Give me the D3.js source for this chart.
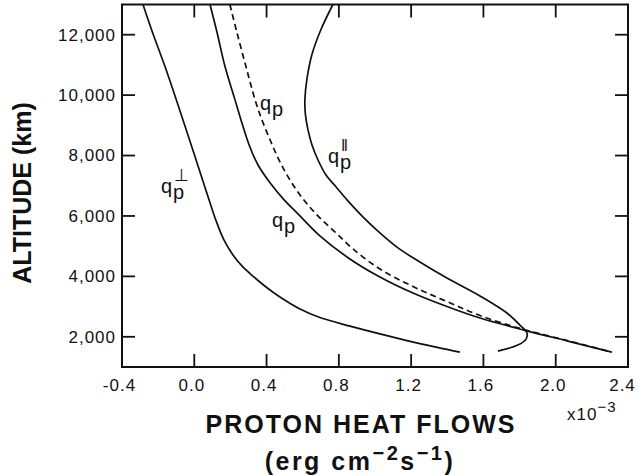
<html>
  <head>
    <meta charset="utf-8">
    <title>Proton heat flows</title>
    <script src="https://d3js.org/d3.v7.min.js"></script>
    <style>
      body { margin: 0; background: #fff; }
      svg text { font-family: "Liberation Sans", Arial, sans-serif; fill: #111; }
      .tick text { font-size: 17px; letter-spacing: 1px; }
      .tickmark { stroke: #111; stroke-width: 1.8px; }
    </style>
  </head>
  <body>
    <svg width="639" height="475"></svg>
    <script>
      // data: [heat flow (x10^-3), altitude km]
      var xTicks = [-0.4, 0.0, 0.4, 0.8, 1.2, 1.6, 2.0, 2.4];
      var yTicks = [2000, 4000, 6000, 8000, 10000, 12000];

      var qPerp = [[-0.284,13000],[-0.231,12073],[-0.162,10945],[-0.063,9187],[0.015,7761],
        [0.087,6434],[0.123,5804],[0.164,5207],[0.214,4710],[0.269,4312],[0.330,3980],
        [0.397,3648],[0.474,3317],[0.585,2919],[0.695,2637],[0.861,2355],[1.066,2040],
        [1.248,1774],[1.470,1493]];

      var qTotal = [[0.087,13000],[0.126,12073],[0.170,10945],[0.225,9851],[0.258,9187],
        [0.303,8358],[0.352,7695],[0.419,7098],[0.497,6534],[0.574,6070],[0.695,5340],
        [0.861,4577],[1.027,3980],[1.210,3449],[1.398,3002],[1.581,2620],[1.835,2206],
        [2.078,1841],[2.310,1493]];

      var qDashed = [[0.197,13000],[0.236,12073],[0.286,10945],[0.336,9851],[0.374,9187],
        [0.419,8524],[0.468,7861],[0.529,7197],[0.601,6567],[0.684,6003],[0.778,5473],
        [0.878,4909],[1.027,4245],[1.210,3665],[1.398,3167],[1.581,2703],[1.824,2239],
        [2.078,1857],[2.310,1493]];

      var qPar = [[0.767,13000],[0.701,12172],[0.651,11343],[0.623,10514],[0.612,9851],
        [0.615,9353],[0.629,8856],[0.651,8358],[0.684,7861],[0.728,7363],[0.784,6965],
        [0.850,6501],[0.933,5970],[1.027,5439],[1.127,4942],[1.248,4478],[1.398,3947],
        [1.581,3350],[1.730,2786],[1.802,2388],[1.841,2123],[1.836,1924],[1.790,1725],
        [1.680,1526]];

      // curve labels: q with subscript p and optional superscript
      var labels = [
        {v: -0.184, alt: 6766, sup: "\u22A5"},
        {v: 0.363, alt: 9519, sup: ""},
        {v: 0.430, alt: 5648, sup: ""},
        {v: 0.740, alt: 7751, sup: "\u2016"}
      ];

      var svg = d3.select("svg");
      var x = d3.scaleLinear().domain([-0.4, 2.4]).range([122, 628]);
      var y = d3.scaleLinear().domain([1000, 13000]).range([367, 4.5]);
      var tickLen = 13;

      var fmtX = function(d){ return (d < 0 ? "-" : "") + Math.abs(d).toFixed(1); };

      // tick labels
      svg.append("g").attr("transform", "translate(0," + y(1000) + ")")
        .call(d3.axisBottom(x).tickValues(xTicks).tickFormat(fmtX)
          .tickSize(0).tickPadding(12))
        .call(function(g){
          g.select(".domain").remove();
          g.selectAll("text").attr("dx", function(d){ return d === 2.4 ? -6 : -3; });
        });

      svg.append("g").attr("transform", "translate(" + x(-0.4) + ",0)")
        .call(d3.axisLeft(y).tickValues(yTicks).tickFormat(d3.format(","))
          .tickSize(0).tickPadding(6))
        .call(function(g){ g.select(".domain").remove(); });

      // inward tick marks on all four sides
      var inner = xTicks.slice(1, -1);
      svg.append("g").selectAll("line").data(inner).join("line").attr("class", "tickmark")
        .attr("x1", x).attr("x2", x)
        .attr("y1", y(1000)).attr("y2", y(1000) - tickLen);
      svg.append("g").selectAll("line").data(inner).join("line").attr("class", "tickmark")
        .attr("x1", x).attr("x2", x)
        .attr("y1", y(13000)).attr("y2", y(13000) + tickLen);
      svg.append("g").selectAll("line").data(yTicks).join("line").attr("class", "tickmark")
        .attr("y1", y).attr("y2", y)
        .attr("x1", x(-0.4)).attr("x2", x(-0.4) + tickLen);
      svg.append("g").selectAll("line").data(yTicks).join("line").attr("class", "tickmark")
        .attr("y1", y).attr("y2", y)
        .attr("x1", x(2.4)).attr("x2", x(2.4) - tickLen);

      // frame
      svg.append("rect")
        .attr("x", x(-0.4)).attr("y", y(13000))
        .attr("width", x(2.4) - x(-0.4)).attr("height", y(1000) - y(13000))
        .attr("fill", "none").attr("stroke", "#111").attr("stroke-width", 2);

      var line = d3.line()
        .x(function(d){ return x(d[0]); })
        .y(function(d){ return y(d[1]); })
        .curve(d3.curveCatmullRom);

      [qPerp, qTotal, qPar].forEach(function(s){
        svg.append("path").attr("d", line(s))
          .attr("fill", "none").attr("stroke", "#111").attr("stroke-width", 1.7);
      });
      svg.append("path").attr("d", line(qDashed))
        .attr("fill", "none").attr("stroke", "#111").attr("stroke-width", 1.7)
        .attr("stroke-dasharray", "6,4");

      labels.forEach(function(l){
        var lx = x(l.v), ly = y(l.alt);
        svg.append("text").attr("x", lx).attr("y", ly).attr("font-size", 20).text("q");
        svg.append("text").attr("x", lx + 12).attr("y", ly + 6).attr("font-size", 20).text("p");
        if (l.sup) {
          svg.append("text").attr("x", lx + 13).attr("y", ly - 12).attr("font-size", 17).text(l.sup);
        }
      });

      // axis titles
      svg.append("text").attr("x", 361).attr("y", 433)
        .attr("text-anchor", "middle").attr("font-size", 25).attr("font-weight", "bold")
        .attr("letter-spacing", 2).text("PROTON HEAT FLOWS");

      var unit = svg.append("text").attr("x", 360).attr("y", 470)
        .attr("text-anchor", "middle").attr("font-size", 25).attr("font-weight", "bold")
        .attr("letter-spacing", 2.5);
      unit.append("tspan").text("(erg cm");
      unit.append("tspan").attr("dy", -10).attr("font-size", 20).text("\u22122");
      unit.append("tspan").attr("dy", 10).text("s");
      unit.append("tspan").attr("dy", -10).attr("font-size", 20).text("\u22121");
      unit.append("tspan").attr("dy", 10).text(")");

      svg.append("text").attr("transform", "translate(31,193) rotate(-90)")
        .attr("text-anchor", "middle").attr("font-size", 25).attr("font-weight", "bold")
        .text("ALTITUDE (km)");

      var mult = svg.append("text").attr("x", 567).attr("y", 420)
        .attr("font-size", 17).attr("letter-spacing", 1);
      mult.append("tspan").text("x10");
      mult.append("tspan").attr("dy", -8).attr("font-size", 15).text("\u22123");
    </script>
  </body>
</html>
